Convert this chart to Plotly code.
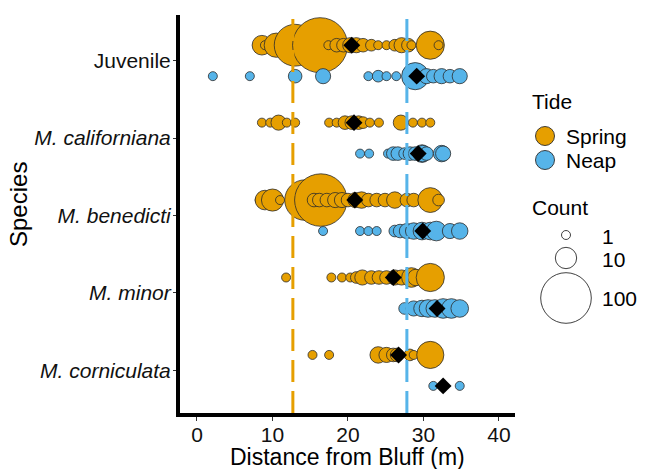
import plotly.graph_objects as go

# ---------------- data ----------------
species = ["Juvenile", "M. californiana", "M. benedicti", "M. minor", "M. corniculata"]
species_ticktext = ["Juvenile", "<i>M. californiana</i>", "<i>M. benedicti</i>",
                    "<i>M. minor</i>", "<i>M. corniculata</i>"]

# Spring tide: distance from bluff (m) and count
juv_spring_dist = [8.0, 8.6, 9.0, 10.5, 13.0, 16.3, 17.4, 18.5, 19.4, 20.3, 21.1, 22.0, 23.1,
                   24.0, 25.1, 26.2, 27.1, 28.0, 28.4, 30.9, 32.0]
juv_spring_count = [1, 8, 1, 14, 60, 125, 1, 3, 3, 4, 4, 3, 2, 1, 1, 2, 4, 3, 1, 21, 1]

cal_spring_dist = [8.6, 9.7, 10.8, 11.9, 13.0, 17.5, 18.5, 19.6, 20.5, 21.4, 22.0, 22.9, 24.1,
                   27.0, 28.6, 29.8, 30.9]
cal_spring_count = [1, 1, 4, 1, 1, 1, 1, 3, 3, 3, 2, 1, 1, 4, 1, 1, 1]

ben_spring_dist = [8.3, 8.8, 9.0, 10.0, 11.0, 14.3, 16.4, 15.5, 16.2, 17.2, 18.3, 19.2, 20.0,
                   21.0, 21.8, 22.7, 23.8, 24.9, 26.2, 27.8, 28.7, 30.9, 32.0]
ben_spring_count = [1, 2, 8, 11, 1, 55, 110, 3, 3, 3, 4, 4, 3, 4, 5, 3, 3, 3, 5, 3, 3, 15, 2]

min_spring_dist = [11.8, 17.8, 19.2, 20.3, 21.1, 21.9, 23.1, 24.1, 25.1, 26.2, 27.1, 28.4,
                   29.0, 30.9]
min_spring_count = [1, 1, 1, 1, 2, 4, 3, 3, 3, 4, 4, 8, 5, 21]

cor_spring_dist = [15.3, 17.5, 24.0, 25.1, 26.0, 26.5, 28.2, 28.7, 30.9]
cor_spring_count = [1, 1, 5, 4, 3, 3, 2, 1, 19]

# Neap tide
juv_neap_dist = [2.1, 7.0, 13.0, 16.7, 22.7, 24.0, 25.1, 26.4, 28.9, 30.4, 31.3, 32.4, 33.5, 34.8]
juv_neap_count = [1, 1, 3, 4, 1, 2, 1, 1, 19, 4, 3, 4, 3, 4]

cal_neap_dist = [21.6, 22.8, 25.3, 26.0, 26.6, 27.5, 28.2, 28.9, 29.8, 29.9, 30.4, 32.4, 32.6]
cal_neap_count = [1, 1, 1, 3, 3, 2, 3, 3, 6, 5, 3, 5, 4]

ben_neap_dist = [16.7, 21.6, 22.7, 23.8, 26.2, 26.9, 27.8, 28.7, 29.8, 30.9, 31.7, 33.5, 34.8]
ben_neap_count = [1, 1, 1, 1, 2, 3, 4, 5, 6, 6, 8, 4, 5]

min_neap_dist = [27.5, 28.7, 29.8, 30.6, 31.5, 32.6, 33.7, 34.8]
min_neap_count = [2, 4, 5, 6, 6, 8, 8, 6]

cor_neap_dist = [31.3, 32.6, 34.8]
cor_neap_count = [1, 1, 1]

# Means (diamonds)
spring_mean = [20.5, 20.8, 20.9, 26.0, 26.7]
neap_mean = [29.1, 29.3, 29.9, 31.8, 32.6]

# Reference lines
spring_line = 12.7
neap_line = 27.8

legend_counts = [1, 10, 100]
x_ticks = [0, 10, 20, 30, 40]

# ---------------- styling ----------------
ORANGE = "#E69F00"
BLUE = "#56B4E9"
FONT = "Liberation Sans, Arial, sans-serif"
OUTLINE = "#2b2b2b"
DODGE = 0.2


def size_of(c):
    return 9.0 * c ** 0.375


spring_sets = [(juv_spring_dist, juv_spring_count), (cal_spring_dist, cal_spring_count),
               (ben_spring_dist, ben_spring_count), (min_spring_dist, min_spring_count),
               (cor_spring_dist, cor_spring_count)]
neap_sets = [(juv_neap_dist, juv_neap_count), (cal_neap_dist, cal_neap_count),
             (ben_neap_dist, ben_neap_count), (min_neap_dist, min_neap_count),
             (cor_neap_dist, cor_neap_count)]

n_sp = len(species)
cat_y = [n_sp - i for i in range(n_sp)]

fig = go.Figure()

for sets, off, col, name in [(spring_sets, DODGE, ORANGE, "Spring"), (neap_sets, -DODGE, BLUE, "Neap")]:
    for i, (d, c) in enumerate(sets):
        fig.add_trace(go.Scatter(
            x=d, y=[cat_y[i] + off] * len(d), mode="markers", name=name, showlegend=False,
            marker=dict(size=[size_of(v) for v in c], color=col, opacity=1,
                        line=dict(color=OUTLINE, width=0.8)),
            hoverinfo="skip", cliponaxis=False))

fig.add_trace(go.Scatter(x=spring_mean, y=[y + DODGE for y in cat_y], mode="markers",
                         showlegend=False,
                         marker=dict(symbol="diamond", size=13, color="black", line=dict(width=0))))
fig.add_trace(go.Scatter(x=neap_mean, y=[y - DODGE for y in cat_y], mode="markers",
                         showlegend=False,
                         marker=dict(symbol="diamond", size=13, color="black", line=dict(width=0))))

shapes = []
for xv, col in [(spring_line, ORANGE), (neap_line, BLUE)]:
    shapes.append(dict(type="line", xref="x", yref="paper", x0=xv, x1=xv, y0=0, y1=1,
                       line=dict(color=col, width=3, dash="22px,9px"), layer="above"))

# ---- layout geometry (page pixels; the page body adds an 8px offset) ----
OFF = 8
L, T, W, H = 180, 15, 335, 398
FW, FH = 647, 469


def px2paper(px, py):
    return (px - L) / W, (T + H - py) / H


def legend_circle(cx, cy, d, fill):
    ax, ay = px2paper(cx, cy)
    return dict(type="circle", xref="paper", yref="paper", xsizemode="pixel", ysizemode="pixel",
                xanchor=ax, yanchor=ay, x0=-d / 2, x1=d / 2, y0=-d / 2, y1=d / 2,
                fillcolor=fill, line=dict(color=OUTLINE, width=0.9), layer="above")


annotations = []


def add_text(px, py, text, size=21, xanchor="left", angle=0):
    ax, ay = px2paper(px, py)
    annotations.append(dict(x=ax, y=ay, xref="paper", yref="paper", text=text, showarrow=False,
                            xanchor=xanchor, yanchor="middle", textangle=angle, borderpad=0,
                            font=dict(family=FONT, size=size, color="black")))


# axis titles
add_text(347, 457, "Distance from Bluff (m)", size=23, xanchor="center")
add_text(19, 205, "Species", size=24, xanchor="center", angle=-90)

# legend
add_text(531, 101, "Tide")
shapes.append(legend_circle(545, 136, 19, ORANGE))
add_text(565, 136, "Spring")
shapes.append(legend_circle(545, 160, 19, BLUE))
add_text(565, 160, "Neap")
add_text(531, 207, "Count")
for cy, c, ty in zip([235, 258, 298], legend_counts, [236, 259, 298]):
    shapes.append(legend_circle(566, cy, size_of(c), "white"))
    add_text(601, ty, str(c))

fig.update_layout(
    width=FW, height=FH,
    margin=dict(l=L - OFF, r=FW - (L - OFF) - W, t=T - OFF, b=FH - (T - OFF) - H,
                autoexpand=False),
    paper_bgcolor="white", plot_bgcolor="white",
    font=dict(family=FONT, color="black"),
    shapes=shapes, annotations=annotations, showlegend=False,
    xaxis=dict(range=[-2.25, 42.12], tickvals=x_ticks, ticks="outside", ticklen=4,
               tickwidth=1.2, tickcolor="#333", showline=True, linewidth=4, linecolor="black",
               showgrid=False, zeroline=False, tickfont=dict(size=21, color="#111"),
               automargin=False, ticklabelstandoff=-4),
    yaxis=dict(range=[0.45, 5.59], tickvals=cat_y, ticktext=species_ticktext, ticks="outside",
               ticklen=3, tickwidth=1.2, tickcolor="#333", showline=True, linewidth=4,
               linecolor="black", showgrid=False, zeroline=False, automargin=False,
               tickfont=dict(size=21, color="#111"), ticklabelstandoff=-2),
)

fig.write_html("out.html")
